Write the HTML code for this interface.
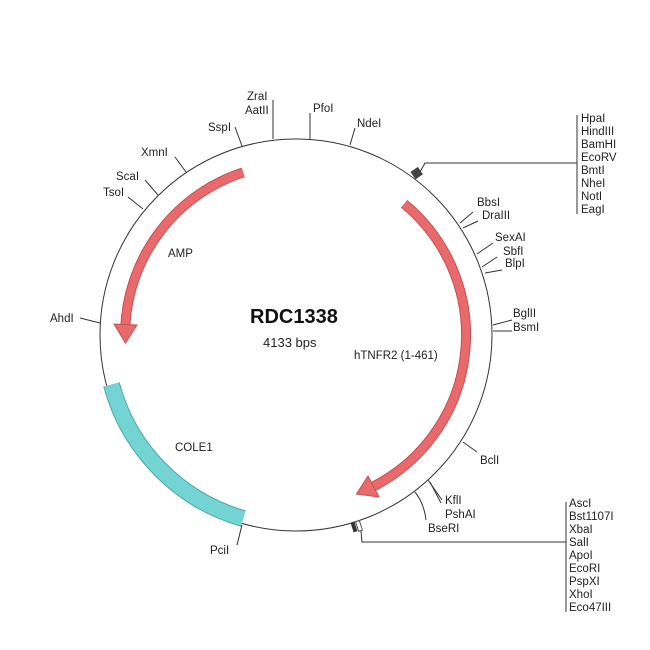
<!DOCTYPE html>
<html><head><meta charset="utf-8"><style>
html,body{margin:0;padding:0;background:#fff;}
svg{display:block;}
text{font-family:"Liberation Sans",sans-serif;font-size:11.5px;fill:#222;}
</style></head><body>
<svg width="650" height="650" viewBox="0 0 650 650" xmlns="http://www.w3.org/2000/svg">
<rect width="650" height="650" fill="#fff"/>
<circle cx="296" cy="335" r="196" fill="none" stroke="#333" stroke-width="1"/>

<path d="M 243.3 518.6 A 191 191 0 0 1 111.5 384.5" fill="none" stroke="#4aa9a9" stroke-width="17"/>
<path d="M 243.3 518.6 A 191 191 0 0 1 111.5 384.5" fill="none" stroke="#74d4d4" stroke-width="15" stroke-linecap="butt"/>

<g>
<path d="M 243.2 172.4 A 171 171 0 0 0 125.3 326" fill="none" stroke="#c94e50" stroke-width="10"/>
<path d="M 243.2 172.4 A 171 171 0 0 0 125.3 326" fill="none" stroke="#e96a6c" stroke-width="8"/>
<polygon points="137,325 114,324 125.5,343" fill="#e96a6c" stroke="#c94e50" stroke-width="1"/>
</g>
<g>
<path d="M 404.1 203.8 A 170 170 0 0 1 373.2 486.5" fill="none" stroke="#c94e50" stroke-width="10"/>
<path d="M 404.1 203.8 A 170 170 0 0 1 373.2 486.5" fill="none" stroke="#e96a6c" stroke-width="8"/>
<polygon points="368,476 379,497 356.5,494" fill="#e96a6c" stroke="#c94e50" stroke-width="1"/>
</g>

<g stroke="#333" stroke-width="1" fill="none">
<line x1="273" y1="100" x2="273" y2="139"/>
<line x1="310" y1="113" x2="310" y2="140"/>
<line x1="235" y1="127" x2="242" y2="146"/>
<line x1="175" y1="157" x2="186" y2="172"/>
<line x1="145" y1="180" x2="158" y2="195"/>
<line x1="128" y1="197" x2="143" y2="209"/>
<line x1="80" y1="318" x2="100" y2="323"/>
<line x1="355" y1="128" x2="350" y2="145"/>
<line x1="460" y1="223" x2="473" y2="212"/>
<line x1="463" y1="228" x2="478" y2="221"/>
<line x1="477" y1="254" x2="493" y2="243"/>
<line x1="482" y1="267" x2="497" y2="257"/>
<line x1="485" y1="273" x2="502" y2="270"/>
<line x1="493" y1="325" x2="512" y2="320"/>
<line x1="493" y1="331" x2="512" y2="331"/>
<line x1="463" y1="442" x2="477" y2="452"/>
<line x1="428" y1="480" x2="442" y2="500"/>
<line x1="430" y1="482" x2="441" y2="503"/>
<path d="M 415 492 Q 424 503 426 520"/>
<line x1="242" y1="525" x2="237" y2="545"/>
<polyline points="420,172 425,163 577,163"/>
<line x1="577" y1="115" x2="577" y2="214"/>
<polyline points="361,531 362,542 566,542"/>
<line x1="566" y1="502" x2="566" y2="612"/>
</g>
<rect x="412" y="169" width="9" height="9" fill="#444" transform="rotate(-35 416 173)"/>
<rect x="352" y="522" width="4" height="10" fill="#333" transform="rotate(-18 354 527)"/>
<rect x="357" y="521" width="4" height="10" fill="none" stroke="#555" stroke-width="1" transform="rotate(-18 359 526)"/>

<text x="247" y="100">ZraI</text>
<text x="245" y="114">AatII</text>
<text x="313" y="112">PfoI</text>
<text x="357" y="127">NdeI</text>
<text x="208" y="131">SspI</text>
<text x="141" y="156">XmnI</text>
<text x="116" y="180">ScaI</text>
<text x="103" y="196">TsoI</text>
<text x="50" y="322">AhdI</text>
<text x="168" y="257">AMP</text>
<text x="250" y="323" style="font-size:20px;font-weight:bold;fill:#111">RDC1338</text>
<text x="263" y="347" style="font-size:13px">4133 bps</text>
<text x="354" y="359">hTNFR2 (1-461)</text>
<text x="175" y="451">COLE1</text>
<text x="210" y="554">PciI</text>
<text x="477" y="206">BbsI</text>
<text x="482" y="219">DraIII</text>
<text x="495" y="241">SexAI</text>
<text x="503" y="255">SbfI</text>
<text x="505" y="267">BlpI</text>
<text x="513" y="317">BglII</text>
<text x="513" y="331">BsmI</text>
<text x="480" y="464">BclI</text>
<text x="445" y="504">KflI</text>
<text x="445" y="518">PshAI</text>
<text x="428" y="532">BseRI</text>

<g>
<text x="581" y="122">HpaI</text>
<text x="581" y="135">HindIII</text>
<text x="581" y="148">BamHI</text>
<text x="581" y="161">EcoRV</text>
<text x="581" y="174">BmtI</text>
<text x="581" y="187">NheI</text>
<text x="581" y="200">NotI</text>
<text x="581" y="213">EagI</text>
</g>
<g>
<text x="569" y="507">AscI</text>
<text x="569" y="520">Bst1107I</text>
<text x="569" y="533">XbaI</text>
<text x="569" y="546">SalI</text>
<text x="569" y="559">ApoI</text>
<text x="569" y="572">EcoRI</text>
<text x="569" y="585">PspXI</text>
<text x="569" y="598">XhoI</text>
<text x="569" y="611">Eco47III</text>
</g>
</svg>
</body></html>
